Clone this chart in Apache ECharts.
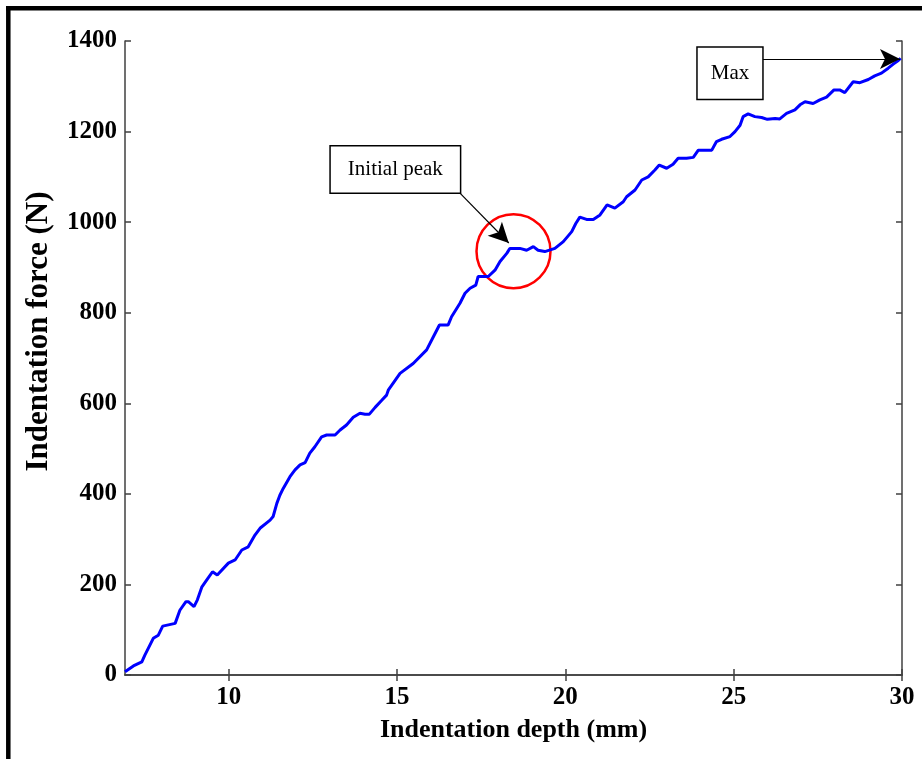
<!DOCTYPE html>
<html>
<head>
<meta charset="utf-8">
<script src="https://cdn.jsdelivr.net/npm/echarts@6/dist/echarts.min.js"></script>
<style>
html,body{margin:0;padding:0;background:#fff;}
#chart{width:922px;height:759px;}
</style>
</head>
<body>
<div id="chart"></div>
<script>
// ---- data ----
var depth = [6.92,7.17,7.42,7.51,7.76,7.91,8.04,8.41,8.55,8.73,8.80,8.97,9.07,9.20,9.35,9.52,9.66,9.99,10.19,10.39,10.58,10.78,10.93,11.23,11.32,11.43,11.52,11.62,11.82,11.97,12.12,12.27,12.41,12.56,12.76,12.91,13.16,13.31,13.50,13.70,13.90,14.05,14.18,14.35,14.54,14.69,14.74,15.09,15.48,15.88,16.08,16.26,16.52,16.62,16.87,17.02,17.17,17.34,17.41,17.56,17.71,17.91,18.06,18.26,18.35,18.65,18.85,19.05,19.19,19.39,19.69,19.94,20.19,20.31,20.43,20.63,20.83,21.03,21.24,21.47,21.72,21.82,22.07,22.27,22.46,22.66,22.79,23.01,23.20,23.35,23.60,23.80,23.95,24.15,24.35,24.49,24.64,24.89,25.04,25.19,25.28,25.43,25.63,25.83,26.00,26.23,26.37,26.57,26.82,26.97,27.12,27.36,27.56,27.76,27.98,28.15,28.30,28.55,28.75,29.00,29.19,29.39,29.59,29.74,29.89,29.96];
var force = [7,20,29,44,81,88,108,114,143,162,162,151,166,194,210,228,221,247,254,276,283,309,324,342,350,379,397,412,438,453,464,469,490,504,526,530,530,541,552,569,578,576,576,591,606,618,629,666,688,718,747,773,773,791,821,843,854,861,880,880,880,894,913,931,942,942,938,946,938,935,942,957,979,997,1011,1006,1006,1016,1038,1031,1045,1056,1071,1093,1100,1115,1126,1119,1128,1141,1141,1143,1159,1159,1159,1178,1183,1189,1200,1214,1233,1239,1233,1231,1227,1229,1228,1240,1248,1259,1266,1262,1270,1276,1292,1292,1286,1310,1308,1315,1323,1329,1340,1349,1357,1362];
var xTicks = [10,15,20,25,30];
var yTicks = [0,200,400,600,800,1000,1200,1400];
var xName = 'Indentation depth (mm)';
var yName = 'Indentation force (N)';
var peakLabel = 'Initial peak';
var maxLabel = 'Max';
var peakCircle = [18.46, 936];
var peakBox = [14.95, 1116];
var peakArrow = [[16.87, 1064], [18.32, 954]];
var maxBox = [24.89, 1329];
var maxArrow = [[25.87, 1360], [29.94, 1360]];

var pts = depth.map(function(d,i){return [d, force[i]];});
var font = 'Liberation Serif';
var axisCol = '#404040';

var chart = echarts.init(document.getElementById('chart'), null, {renderer:'canvas'});
var tickLabel = {fontFamily:font, fontWeight:'bold', fontSize:25, color:'#000'};
chart.setOption({
  animation:false,
  backgroundColor:'#fff',
  grid:{left:125, top:41, right:20, bottom:84, containLabel:false},
  xAxis:[{
    type:'value', min:6.92, max:30, position:'bottom',
    name:xName, nameLocation:'middle', nameGap:42,
    nameTextStyle:{fontFamily:font, fontWeight:'bold', fontSize:26, color:'#000'},
    axisLine:{show:true, lineStyle:{color:axisCol, width:1.5}},
    axisTick:{show:true, inside:true, length:6, customValues:xTicks, lineStyle:{color:axisCol, width:1.5}},
    axisLabel:Object.assign({customValues:xTicks, margin:10}, tickLabel),
    splitLine:{show:false}
  },{
    type:'value', min:6.92, max:30, position:'top',
    axisLine:{show:true, lineStyle:{color:axisCol, width:1.5}},
    axisTick:{show:true, inside:true, length:6, customValues:xTicks, lineStyle:{color:axisCol, width:1.5}},
    axisLabel:{show:false},
    splitLine:{show:false}
  }],
  yAxis:[{
    type:'value', min:0, max:1400, interval:200, position:'left',
    name:yName, nameLocation:'middle', nameGap:71,
    nameTextStyle:{fontFamily:font, fontWeight:'bold', fontSize:31, color:'#000', padding:[0,0,0,53]},
    axisLine:{show:true, lineStyle:{color:axisCol, width:1.5}},
    axisTick:{show:true, inside:true, length:6, lineStyle:{color:axisCol, width:1.5}},
    axisLabel:Object.assign({margin:8, formatter:function(v){return String(v);}}, tickLabel),
    splitLine:{show:false}
  },{
    type:'value', min:0, max:1400, interval:200, position:'right',
    axisLine:{show:true, lineStyle:{color:axisCol, width:1.5}},
    axisTick:{show:true, inside:true, length:6, lineStyle:{color:axisCol, width:1.5}},
    axisLabel:{show:false},
    splitLine:{show:false}
  }],
  series:[{
    type:'line', data:pts, showSymbol:false, symbol:'none',
    lineStyle:{color:'#0000ff', width:3}, z:4,
    markLine:{
      silent:true, symbol:['none','arrow'], symbolSize:[15,20],
      label:{show:false},
      lineStyle:{color:'#000', width:1.2, type:'solid'},
      data:[
        [{coord:peakArrow[0]},{coord:peakArrow[1]}],
        [{coord:maxArrow[0]},{coord:maxArrow[1]}]
      ]
    }
  },{
    type:'scatter', data:[peakCircle], symbol:'circle', symbolSize:74,
    itemStyle:{color:'rgba(0,0,0,0)', borderColor:'#ff0000', borderWidth:2.5, opacity:1},
    silent:true, z:3
  },{
    type:'scatter', symbolSize:0, silent:true, z:5,
    data:[
      {value:peakBox, name:peakLabel, label:{padding:[13,17,12,17]}},
      {value:maxBox, name:maxLabel, label:{padding:[13,13,17,13]}}
    ],
    label:{
      show:true, position:'inside', formatter:'{b}',
      fontFamily:font, fontSize:21, color:'#000',
      backgroundColor:'#fff', borderColor:'#000', borderWidth:1.5
    },
    itemStyle:{opacity:1}
  }],
  graphic:[
    {type:'line', shape:{x1:8.3, y1:6, x2:8.3, y2:759}, style:{stroke:'#000', lineWidth:4.5}, silent:true},
    {type:'line', shape:{x1:6, y1:8.3, x2:922, y2:8.3}, style:{stroke:'#000', lineWidth:4.5}, silent:true}
  ]
});
</script>
</body>
</html>
